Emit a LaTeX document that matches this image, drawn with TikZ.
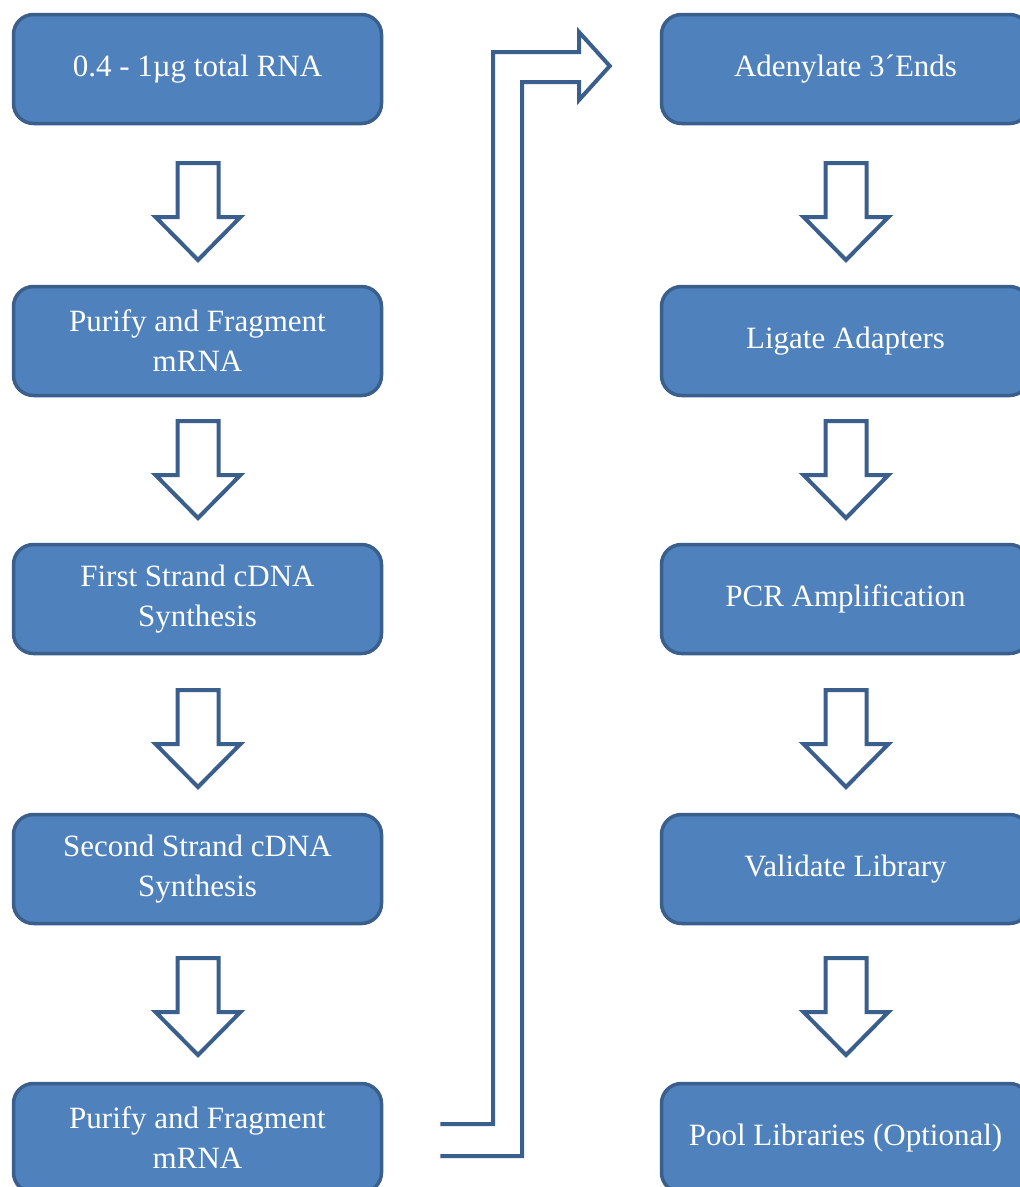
\documentclass[tikz,border=0pt]{standalone}
\usepackage{fontspec}
\setmainfont{Liberation Serif}
\usetikzlibrary{calc}
\definecolor{boxfill}{HTML}{4F81BD}
\definecolor{boxline}{HTML}{3A5F8C}
\tikzset{
  stepbox/.style={draw=boxline, line width=3.5pt, fill=boxfill, rounded corners=20pt,
    minimum width=368pt, minimum height=109pt, inner sep=0pt, text=white, align=center,
    font=\fontsize{31}{40}\selectfont},
  arrline/.style={draw=boxline, line width=4pt, fill=white, line join=miter},
  pics/downarr/.style={code={
    \draw[arrline] (-20.5,0) -- (20.5,0) -- (20.5,54) -- (42.5,54) -- (0,97)
       -- (-42.5,54) -- (-20.5,54) -- cycle;
  }}
}
\begin{document}
\begin{tikzpicture}[x=1pt,y=-1pt]
\useasboundingbox (0,0) rectangle (1020,1187);
\clip (0,0) rectangle (1020,1187);
% left column
\node[stepbox] (L1) at (197.5,69) {0.4 - 1µg total RNA};
\node[stepbox] (L2) at (197.5,341) {Purify and Fragment\\mRNA};
\node[stepbox] (L3) at (197.5,599) {First Strand cDNA\\Synthesis};
\node[stepbox] (L4) at (197.5,869) {Second Strand cDNA\\Synthesis};
\node[stepbox] (L5) at (197.5,1138) {Purify and Fragment\\mRNA};
% right column
\node[stepbox] (R1) at (845.5,69) {Adenylate 3´Ends};
\node[stepbox] (R2) at (845.5,341) {Ligate Adapters};
\node[stepbox] (R3) at (845.5,599) {PCR Amplification};
\node[stepbox] (R4) at (845.5,869) {Validate Library};
\node[stepbox] (R5) at (845.5,1138) {Pool Libraries (Optional)};
% down arrows
\pic at (198,163) {downarr};
\pic at (198,421) {downarr};
\pic at (198,690) {downarr};
\pic at (198,958) {downarr};
\pic at (846,163) {downarr};
\pic at (846,421) {downarr};
\pic at (846,690) {downarr};
\pic at (846,958) {downarr};
% bent arrow from L5 to R1
\coordinate (ta) at ($(L5.east)+(57,-14)$);
\coordinate (tb) at ($(L5.east)+(57,18)$);
\coordinate (tip) at ($(R1.west)+(-50,-3)$);
\draw[draw=boxline, line width=4pt, line join=miter]
  (ta) -- (493,1124) -- (493,52) -- (579,52) -- (579,32) -- (tip)
  -- (579,100) -- (579,82) -- (522,82) -- (522,1156) -- (tb);
\end{tikzpicture}
\end{document}
